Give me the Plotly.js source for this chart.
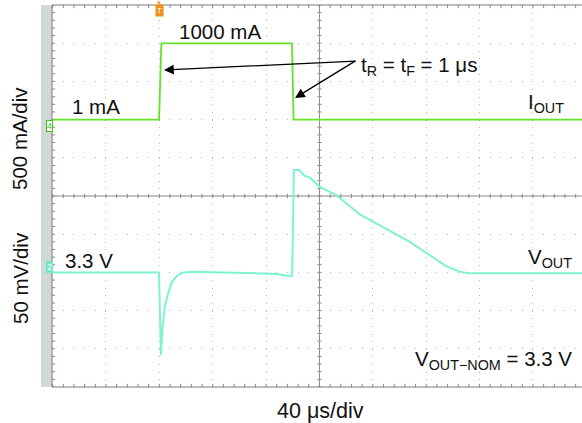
<!DOCTYPE html>
<html>
<head>
<meta charset="utf-8">
<script src="https://cdn.plot.ly/plotly-3.0.1.min.js"></script>
<style>html,body{margin:0;padding:0;background:#fff}#chart{width:582px;height:423px}</style>
</head>
<body>
<div id="chart"></div>
<script>
// ---- data (time in µs, current in mA, voltage in V) ----
const timeI_us = [0, 79.8, 81.5, 179.4, 180.6, 397];
const currentOut_mA = [1, 1, 1000, 1000, 1, 1];

const timeV_us = [0, 79.7, 80.4, 81.2, 82.5, 84.2, 86.7, 89.2, 93.0, 97.9, 105.4, 167.8, 179.1, 179.5, 180.0, 180.8, 185.0, 188.3, 192.8, 200.3, 212.8, 230.2, 267.7, 295.2, 305.1, 311.4, 397];
const voltageOut_V = [3.300, 3.300, 3.250, 3.192, 3.230, 3.256, 3.273, 3.287, 3.295, 3.300, 3.301, 3.298, 3.295, 3.296, 3.343, 3.434, 3.434, 3.427, 3.424, 3.412, 3.401, 3.376, 3.340, 3.308, 3.301, 3.299, 3.299];

// scope settings
const usPerDiv = 40, mAPerDiv = 500, VPerDiv = 0.05;
const xRange = [-0.45, 396.75];
const currentRange = [1 - 7 * mAPerDiv, 1 + 3 * mAPerDiv];
const voltageRange = [3.3 - 3 * VPerDiv, 3.3 + 7 * VPerDiv];

// ---- decorative graticule ticks (in divisions) ----
const gridCol = '#b5b5b5', axCol = '#8a8a8a';
const xsMinor = [], ysMinor = [];
for (let i = 0; i <= 50; i++) xsMinor.push(i * usPerDiv / 5);
for (let i = 0; i <= 50; i++) ysMinor.push(i / 5);
function tickTrace(xs, ys, sym, size) {
  return {x: xs, y: ys, xaxis: 'x', yaxis: 'y', mode: 'markers', type: 'scatter',
    hoverinfo: 'skip', showlegend: false,
    marker: {symbol: sym, size: size, color: axCol, line: {color: axCol, width: 1}}};
}
const traces = [
  tickTrace(xsMinor, xsMinor.map(() => 5), 'line-ns-open', 3),
  tickTrace(ysMinor.map(() => 200), ysMinor, 'line-ew-open', 3),
  tickTrace(xsMinor, xsMinor.map(() => 10), 'line-ns-open', 4.5),
  tickTrace(xsMinor, xsMinor.map(() => 0), 'line-ns-open', 4.5),
  tickTrace(ysMinor.map(() => xRange[0]), ysMinor, 'line-ew-open', 4.5),
  {x: timeI_us, y: currentOut_mA, xaxis: 'x', yaxis: 'y2', type: 'scatter', mode: 'lines',
   name: 'IOUT', showlegend: false, line: {color: '#63e22c', width: 1.8}},
  {x: timeV_us, y: voltageOut_V, xaxis: 'x', yaxis: 'y3', type: 'scatter', mode: 'lines',
   name: 'VOUT', showlegend: false, line: {color: '#7ef2d3', width: 2}}
];

const F = 'Liberation Sans, Arial, Helvetica, sans-serif';
function px(x) { return (x - 52) / 530; }
function py(y) { return (387 - y) / 382; }
function txt(text, x, y, xanchor, extra) {
  return Object.assign({text: text, xref: 'paper', yref: 'paper', x: px(x), y: py(y),
    xanchor: xanchor || 'center', yanchor: 'middle', showarrow: false,
    font: {family: F, size: 20.5, color: '#111'}}, extra || {});
}
function arrow(hx, hy, tx, ty) {
  return {text: '', xref: 'paper', yref: 'paper', x: px(hx), y: py(hy),
    ax: tx - hx, ay: ty - hy, showarrow: true, arrowhead: 2, arrowsize: 1.5,
    arrowwidth: 1.3, arrowcolor: '#000'};
}

const layout = {
  width: 582, height: 423,
  margin: {l: 52, r: 0, t: 5, b: 36},
  paper_bgcolor: '#fff', plot_bgcolor: '#fff',
  showlegend: false,
  xaxis: {range: xRange, tick0: 0, dtick: usPerDiv, showgrid: true, gridcolor: gridCol,
    griddash: '1px,6.64px', gridwidth: 1, showticklabels: false, ticks: '', zeroline: false,
    showline: false, fixedrange: true},
  yaxis: {range: [0, 10], tick0: 0, dtick: 1, showgrid: true, gridcolor: gridCol,
    griddash: '1px,9.675px', gridwidth: 1, showticklabels: false, ticks: '', zeroline: false,
    showline: false, fixedrange: true},
  yaxis2: {range: currentRange, overlaying: 'y', visible: false, fixedrange: true},
  yaxis3: {range: voltageRange, overlaying: 'y', visible: false, fixedrange: true},
  shapes: [
    {type: 'rect', xref: 'paper', yref: 'paper', x0: px(41), x1: 0, y0: 0, y1: 1,
     fillcolor: '#cfdad7', line: {width: 0}, layer: 'above'},
    {type: 'line', xref: 'paper', yref: 'paper', x0: 0, x1: 0, y0: 0, y1: 1,
     line: {color: '#7a7a7a', width: 1}},
    {type: 'line', xref: 'x', yref: 'paper', x0: 200, x1: 200, y0: 0, y1: 1,
     line: {color: axCol, width: 1}, layer: 'between'},
    {type: 'line', xref: 'paper', yref: 'y', x0: 0, x1: 1, y0: 5, y1: 5,
     line: {color: axCol, width: 1}, layer: 'between'},
    {type: 'line', xref: 'paper', yref: 'paper', x0: 0, x1: 1, y0: 1, y1: 1,
     line: {color: '#7a7a7a', width: 1.2}},
    {type: 'line', xref: 'paper', yref: 'paper', x0: 0, x1: 1, y0: 0, y1: 0,
     line: {color: '#7a7a7a', width: 1.2}}
  ],
  annotations: [
    txt('1000 mA', 220, 31),
    txt('1 mA', 96, 106),
    txt('3.3 V', 89, 260),
    txt('t<sub>R</sub> = t<sub>F</sub> = 1 μs', 359, 66, 'left'),
    txt('I<sub>OUT</sub>', 566, 103, 'right'),
    txt('V<sub>OUT</sub>', 574, 258, 'right'),
    txt('V<sub>OUT−NOM</sub> = 3.3 V', 574, 360, 'right'),
    txt('500 mA/div', 19, 139, 'center', {textangle: -90}),
    txt('50 mV/div', 20, 278, 'center', {textangle: -90}),
    txt('40 μs/div', 320, 411, 'center', {font: {family: F, size: 21.5, color: '#111'}}),
    arrow(164, 70, 357, 61),
    arrow(295, 98, 357, 60),
    {text: '4', xref: 'paper', yref: 'paper', x: px(46), y: py(120), showarrow: false,
     font: {family: F, size: 9, color: '#3fbf1f'}, bgcolor: '#fff', bordercolor: '#3fbf1f',
     borderwidth: 1, borderpad: 0},
    {text: '2', xref: 'paper', yref: 'paper', x: px(46), y: py(273), showarrow: false,
     font: {family: F, size: 9, color: '#fff'}, bgcolor: '#6fe6c8', bordercolor: '#6fe6c8',
     borderwidth: 1, borderpad: 0},
    {text: '▼', xref: 'x', yref: 'paper', x: 80, y: py(3), yanchor: 'middle', showarrow: false,
     font: {family: F, size: 6, color: '#f0901e'}},
    {text: 'T', xref: 'x', yref: 'paper', x: 80, y: py(11), yanchor: 'middle', showarrow: false,
     font: {family: F, size: 8, color: '#fff'}, bgcolor: '#f0901e', borderpad: 1}
  ]
};

Plotly.newPlot('chart', traces, layout, {staticPlot: true, displayModeBar: false});
</script>
</body>
</html>
